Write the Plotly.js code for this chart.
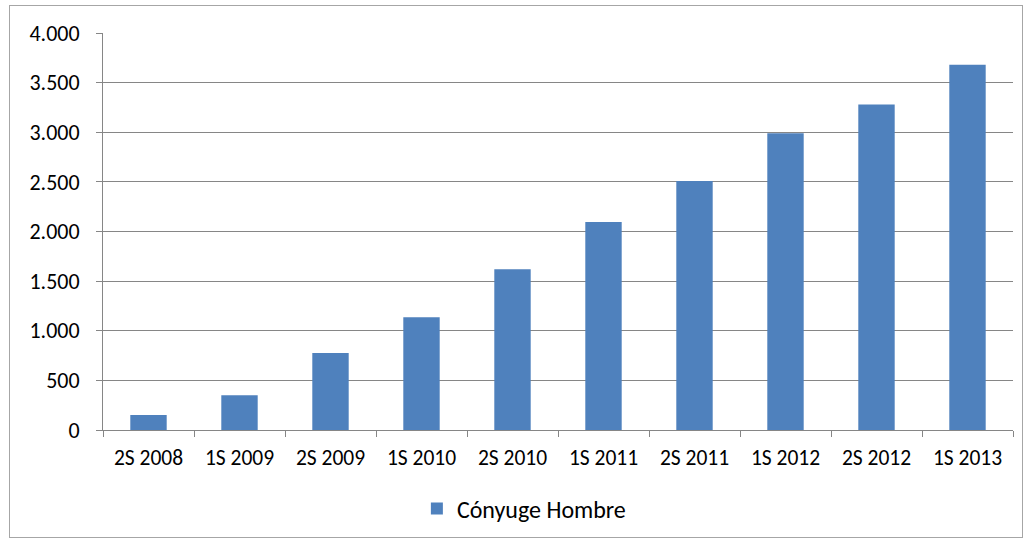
<!DOCTYPE html>
<html>
<head>
<meta charset="utf-8">
<script src="https://cdn.plot.ly/plotly-3.0.1.min.js"></script>
<style>
  html, body { margin: 0; padding: 0; background: #fff; }
  #wrap { position: relative; width: 1029px; height: 542px; }
  #chart { position: absolute; left: 0; top: 0; width: 1029px; height: 542px; }
  #frame { position: absolute; left: 9px; top: 5px; width: 1012px; height: 531px; border: 1px solid #a6a6a6; pointer-events: none; }
</style>
</head>
<body>
<div id="wrap">
  <div id="chart"></div>
  <div id="frame"></div>
</div>
<script>
const categories = ["2S 2008", "1S 2009", "2S 2009", "1S 2010", "2S 2010", "1S 2011", "2S 2011", "1S 2012", "2S 2012", "1S 2013"];
const conyugeHombre = [150, 350, 775, 1135, 1620, 2095, 2510, 2990, 3280, 3680];
const seriesName = "Cónyuge Hombre";
const yTicks = [0, 500, 1000, 1500, 2000, 2500, 3000, 3500, 4000];

const font = "Calibri, Carlito, 'Open Sans', 'Noto Sans', sans-serif";

Plotly.newPlot("chart", [{
  type: "bar",
  x: categories,
  y: conyugeHombre,
  name: seriesName,
  marker: { color: "#4f81bd", line: { width: 0 } },
  showlegend: true
}], {
  width: 1029,
  height: 542,
  margin: { l: 103, r: 16, t: 33, b: 111 },
  paper_bgcolor: "#ffffff",
  plot_bgcolor: "#ffffff",
  separators: ",.",
  bargap: 0.6,
  font: { family: font, color: "#000000" },
  xaxis: {
    type: "category",
    showgrid: false,
    showline: true,
    linecolor: "#868686",
    linewidth: 1,
    ticks: "outside",
    tickson: "boundaries",
    ticklen: 6,
    tickcolor: "#868686",
    tickfont: { size: 21.5, family: font },
    ticklabelstandoff: 8,
    zeroline: false
  },
  yaxis: {
    range: [0, 4000],
    tickvals: yTicks,
    tickformat: ",d",
    showgrid: true,
    gridcolor: "#868686",
    gridwidth: 1,
    showline: true,
    linecolor: "#868686",
    linewidth: 1,
    ticks: "outside",
    ticklen: 6,
    tickcolor: "#868686",
    tickfont: { size: 22, family: font },
    ticklabelstandoff: 12,
    zeroline: false
  },
  legend: {
    orientation: "h",
    x: 0.4625,
    xanchor: "center",
    y: -0.196,
    yanchor: "middle",
    font: { size: 24, family: font },
    itemwidth: 30
  }
}, { displayModeBar: false, staticPlot: true });
</script>
</body>
</html>
